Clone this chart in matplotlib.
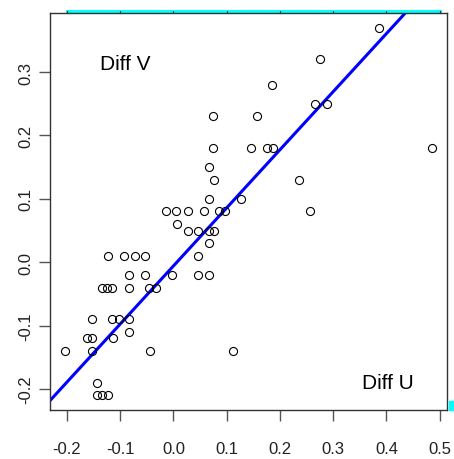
import numpy as np
import matplotlib
matplotlib.use('Agg')
import matplotlib.pyplot as plt
from matplotlib.patches import Rectangle

# ---- data ----
diff_u = [0.386, 0.276, 0.186, 0.265, 0.288, 0.075, 0.157, 0.075, 0.145, 0.175,
          0.187, 0.486, 0.066, 0.077, 0.235, 0.066, 0.127, -0.013, 0.005, 0.027,
          0.058, 0.085, 0.096, 0.257, 0.006, 0.027, 0.047, 0.066, 0.077, 0.066,
          -0.122, -0.092, -0.072, -0.054, 0.047, -0.084, -0.054, -0.003, 0.047, 0.066,
          -0.134, -0.124, -0.115, -0.084, -0.045, -0.032, -0.152, -0.115, -0.102, -0.084,
          -0.084, -0.163, -0.152, -0.114, -0.204, -0.152, -0.043, 0.112, -0.144, -0.144,
          -0.134, -0.122]
diff_v = [0.37, 0.32, 0.28, 0.25, 0.25, 0.23, 0.23, 0.18, 0.18, 0.18,
          0.18, 0.18, 0.15, 0.13, 0.13, 0.10, 0.10, 0.08, 0.08, 0.08,
          0.08, 0.08, 0.08, 0.08, 0.06, 0.05, 0.05, 0.05, 0.05, 0.03,
          0.01, 0.01, 0.01, 0.01, 0.01, -0.02, -0.02, -0.02, -0.02, -0.02,
          -0.04, -0.04, -0.04, -0.04, -0.04, -0.04, -0.09, -0.09, -0.09, -0.09,
          -0.11, -0.12, -0.12, -0.12, -0.14, -0.14, -0.14, -0.14, -0.19, -0.21,
          -0.21, -0.21]

# fitted line (intercept, slope)
fit_a = -0.006
fit_b = 0.917

x_ticks = [-0.2, -0.1, 0.0, 0.1, 0.2, 0.3, 0.4, 0.5]
y_ticks = [-0.2, -0.1, 0.0, 0.1, 0.2, 0.3]

plt.rcParams['font.family'] = ['Liberation Sans', 'DejaVu Sans']

fig = plt.figure(figsize=(4.54, 4.60), dpi=100)
ax = fig.add_axes([0.1101, 0.1065, 0.8745, 0.8631])

ax.plot(diff_u, diff_v, 'o', markersize=5.8, markerfacecolor='none',
        markeredgecolor='black', markeredgewidth=0.8, zorder=3)

# R style limits: data range plus 4% on each side
def pad_range(v):
    lo, hi = min(v), max(v)
    d = 0.04 * (hi - lo)
    return lo - d, hi + d

ax.set_xlim(pad_range(diff_u))
ax.set_ylim(pad_range(diff_v))
ax.axline((0, fit_a), slope=fit_b, color='#0000ff', linewidth=2.2, zorder=2)

ax.text(-0.137, 0.314, 'Diff V', fontsize=15, ha='left', va='center')
ax.text(0.354, -0.19, 'Diff U', fontsize=15, ha='left', va='center')

ax.set_xticks(x_ticks)
ax.set_yticks(y_ticks)
ax.set_xticklabels(['%.1f' % v for v in x_ticks])
ax.set_yticklabels(['%.1f' % v for v in y_ticks])
ax.tick_params(axis='both', length=8, width=1, color='#555555',
               labelsize=12, labelcolor='#222222')
ax.tick_params(axis='x', pad=14)
ax.tick_params(axis='y', pad=4, labelrotation=90)
plt.setp(ax.get_yticklabels(), va='center')
for s in ax.spines.values():
    s.set_color('#333333')
    s.set_linewidth(1)

# cyan strip along the top, spanning the tick range
trans = ax.get_xaxis_transform()
ax.plot([x_ticks[0], x_ticks[-1]], [1.004, 1.004], color='cyan', linewidth=2.2,
        transform=trans, clip_on=False, zorder=1, scalex=False, scaley=False)
for xt in x_ticks:
    ax.plot([xt, xt], [1.0, 1.006], color='#333333', linewidth=0.8,
            transform=trans, clip_on=False, scalex=False, scaley=False)
ax.set_xlim(pad_range(diff_u))

# small cyan block at the lower right edge
fig.patches.append(Rectangle((449 / 454, 49 / 460), 5 / 454, 9 / 460,
                             transform=fig.transFigure, color='cyan'))

fig.savefig('out.png', dpi=100)
